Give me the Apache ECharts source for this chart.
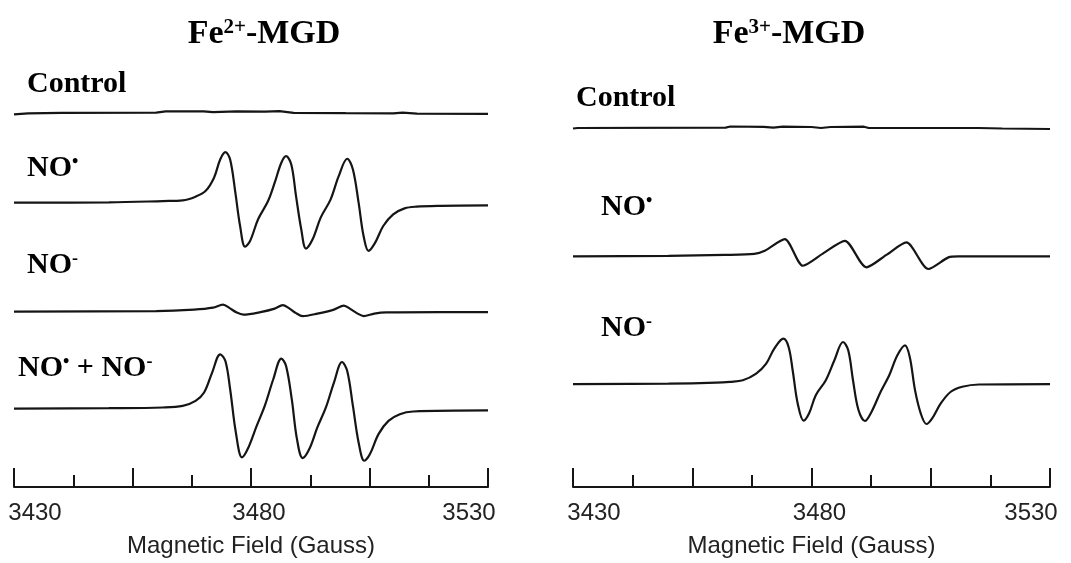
<!DOCTYPE html>
<html>
<head>
<meta charset="utf-8">
<script src="https://cdn.jsdelivr.net/npm/echarts@6/dist/echarts.min.js"></script>
<style>
  html, body { margin: 0; padding: 0; background: #fff; }
  #chart { width: 1071px; height: 563px; }
</style>
</head>
<body>
<div id="chart"></div>
<script>
// field axis (Gauss)
const fieldMin = 3430
const fieldMax = 3530
const majorTicks = [3430, 3455, 3480, 3505, 3530]
const minorTicks = [3442.5, 3467.5, 3492.5, 3517.5]
const tickLabels = [3430, 3480, 3530]

// traces: [field, signal]
const fe2Control = [[3430,-1.5],[3433,-0.5],[3440,0],[3460,0.3],[3462,1.5],[3470,1.5],[3472,0.8],[3477,1.5],[3483,1.2],[3486,1.8],[3489,0],[3500,-0.3],[3510,-0.5],[3512,0.3],[3515,-0.8],[3530,-1]]
const fe2NO = [[3430,0],[3450,0.3],[3461.4,1.6],[3465.6,2.3],[3468.3,6],[3470.4,11.6],[3472.2,25],[3473.5,43.3],[3474.6,50.6],[3475.6,43.3],[3476.7,10],[3477.7,-23.4],[3478.75,-44],[3479.8,-38.4],[3481.5,-16.7],[3483.6,1.6],[3485,20],[3486.4,40],[3487.4,46.6],[3488.5,38.3],[3489.5,6.6],[3490.6,-26.7],[3491.6,-46],[3493,-36.7],[3494.7,-15],[3496.8,3.3],[3498.5,26.6],[3500.3,44],[3501.5,33.3],[3502.7,0],[3503.75,-33.4],[3504.8,-48.4],[3506.2,-40],[3507.9,-23.4],[3510,-11.7],[3512.4,-5.7],[3514.9,-4],[3520,-3.2],[3530,-2.7]]
const fe2NOminus = [[3430,-0.5],[3460,0],[3468,1.5],[3472,3.5],[3474.1,6.5],[3475.5,3],[3477,-1.5],[3478.4,-3.5],[3482,-1],[3485,2.5],[3486.7,6],[3488,3],[3489.5,-2],[3490.9,-5],[3494,-2.5],[3497.5,1.5],[3499.6,5.5],[3501,2],[3502.5,-2.5],[3503.75,-5],[3506,-2.5],[3508.6,-1.3],[3520,-1],[3530,-1]]
const fe2Both = [[3430,0],[3450,0.5],[3461.4,1.2],[3465.6,2.8],[3468.3,7.8],[3470.1,16.2],[3471.8,36.2],[3473.5,54.5],[3474.6,47.8],[3475.6,19.5],[3476.8,-23.8],[3478.1,-48.8],[3479.3,-40.5],[3481.2,-17.2],[3482.9,2.8],[3484.7,29.5],[3486.4,50.2],[3487.4,42.8],[3488.6,9.5],[3489.7,-30.5],[3490.9,-49.5],[3492.3,-40.5],[3494,-18.8],[3495.8,1.2],[3497.5,26.2],[3499.2,46.8],[3500.3,37.8],[3501.5,2.8],[3502.7,-33.8],[3503.9,-52.2],[3505.1,-45.5],[3506.9,-25.5],[3509,-12.2],[3511.4,-5.5],[3514.2,-2.8],[3530,-1.7]]

const fe3Control = [[3430,-0.5],[3431,0],[3462,0.3],[3463,1.5],[3470,1.2],[3472,0.3],[3474,1.3],[3480,1],[3482,0],[3484,1],[3491,1.3],[3492,0],[3515,0],[3520,-0.5],[3530,-1]]
const fe3NO = [[3430,0],[3450,0.5],[3461.8,1.5],[3468,2.5],[3470.2,5.6],[3474.4,17.3],[3478.2,-9.4],[3482.6,3.5],[3487,15.6],[3491.5,-11],[3495.7,1.5],[3499.9,14],[3504.5,-12.7],[3508.7,-1],[3510.8,0],[3530,0]]
const fe3NOminus = [[3430,0],[3450,0.5],[3460,1.5],[3462.9,2.4],[3465.6,4],[3468.4,10.7],[3470.5,20.7],[3472.2,35.7],[3474.1,45.7],[3475.2,37.4],[3476.05,14],[3477.1,-19.3],[3478.35,-36.6],[3479.5,-29.3],[3480.9,-11],[3483,4],[3484.8,24],[3486.6,42.4],[3487.7,34],[3488.7,4],[3489.85,-26],[3491.2,-37],[3492.6,-27.6],[3494.5,-7.6],[3496.3,9],[3498,29],[3499.6,39],[3500.6,27.4],[3501.7,-6],[3502.9,-29.3],[3504.1,-40],[3505.3,-34.3],[3507.1,-19.3],[3509.2,-7.6],[3511.6,-2.6],[3515.1,-0.3],[3530,0]]

const ink = '#151515'
const serif = 'Liberation Serif, Times New Roman, serif'
const sans = 'Liberation Sans, Arial, sans-serif'

let chart = echarts.init(document.getElementById('chart'))

function trace(data, offset, grid, smooth) {
  return {
    type: 'line',
    xAxisIndex: grid * 2,
    yAxisIndex: grid,
    data: data.map(p => [p[0], p[1] + offset]),
    showSymbol: false,
    smooth: smooth,
    lineStyle: { color: ink, width: 2.2 },
    silent: true,
    animation: false
  }
}

function fieldAxes(grid) {
  return [{
    type: 'value',
    gridIndex: grid,
    position: 'bottom',
    min: fieldMin,
    max: fieldMax,
    splitLine: { show: false },
    axisLine: { lineStyle: { color: ink, width: 2 } },
    axisTick: { inside: true, length: 19, customValues: majorTicks, lineStyle: { color: ink, width: 2 } },
    axisLabel: {
      customValues: tickLabels,
      margin: 14,
      color: '#222',
      fontFamily: sans,
      fontSize: 24,
      formatter: v => v === fieldMin ? '{lo|' + v + '}' : (v === fieldMax ? '{hi|' + v + '}' : '{mid|' + v + '}'),
      rich: {
        lo: { fontFamily: sans, fontSize: 24, color: '#222', padding: [0, 0, 0, 42] },
        mid: { fontFamily: sans, fontSize: 24, color: '#222', padding: [0, 0, 0, 16] },
        hi: { fontFamily: sans, fontSize: 24, color: '#222', padding: [0, 38, 0, 0] }
      }
    },
    name: 'Magnetic Field (Gauss)',
    nameLocation: 'middle',
    nameGap: 47,
    nameTextStyle: { color: '#222', fontFamily: sans, fontSize: 24 }
  }, {
    // short ticks in between
    type: 'value',
    gridIndex: grid,
    position: 'bottom',
    offset: 0,
    min: fieldMin,
    max: fieldMax,
    splitLine: { show: false },
    axisLine: { show: false },
    axisLabel: { show: false },
    axisTick: { inside: true, length: 12, customValues: minorTicks, lineStyle: { color: ink, width: 2 } }
  }]
}

const labelRich = {
  b: { fontFamily: serif, fontWeight: 'bold', fontSize: 30, lineHeight: 30, fill: '#000', verticalAlign: 'bottom' },
  s: { fontFamily: serif, fontWeight: 'bold', fontSize: 18, lineHeight: 18, fill: '#000', verticalAlign: 'top' },
  t: { fontFamily: serif, fontWeight: 'bold', fontSize: 34, lineHeight: 34, fill: '#000', verticalAlign: 'bottom' },
  ts: { fontFamily: serif, fontWeight: 'bold', fontSize: 21, lineHeight: 21, fill: '#000', verticalAlign: 'top' }
}

function label(text, x, y, align) {
  return {
    type: 'text',
    x: x,
    y: y,
    silent: true,
    style: { text: text, rich: labelRich, align: align || 'left', verticalAlign: 'middle' }
  }
}

chart.setOption({
  animation: false,
  grid: [
    { left: 14, right: 583, top: 60, bottom: 75 },
    { left: 573, right: 21, top: 60, bottom: 74 }
  ],
  xAxis: fieldAxes(0).concat(fieldAxes(1)),
  yAxis: [
    { type: 'value', gridIndex: 0, min: 0, max: 428, show: false },
    { type: 'value', gridIndex: 1, min: 0, max: 429, show: false }
  ],
  series: [
    trace(fe2Control, 375, 0, false),
    trace(fe2NO, 285, 0, 0.35),
    trace(fe2NOminus, 176.3, 0, 0.3),
    trace(fe2Both, 78.5, 0, 0.35),
    trace(fe3Control, 360.7, 1, false),
    trace(fe3NO, 231.7, 1, 0.25),
    trace(fe3NOminus, 103.3, 1, 0.35)
  ],
  graphic: [
    label('{t|Fe}{ts|2+}{t|-MGD}', 264, 34, 'center'),
    label('{t|Fe}{ts|3+}{t|-MGD}', 789, 34, 'center'),
    label('{b|Control}', 27, 84),
    label('{b|NO}{s|•}', 27, 168),
    label('{b|NO}{s|-}', 27, 265),
    label('{b|NO}{s|•}{b| + NO}{s|-}', 18, 368),
    label('{b|Control}', 576, 98),
    label('{b|NO}{s|•}', 601, 207),
    label('{b|NO}{s|-}', 601, 328)
  ]
})
</script>
</body>
</html>
